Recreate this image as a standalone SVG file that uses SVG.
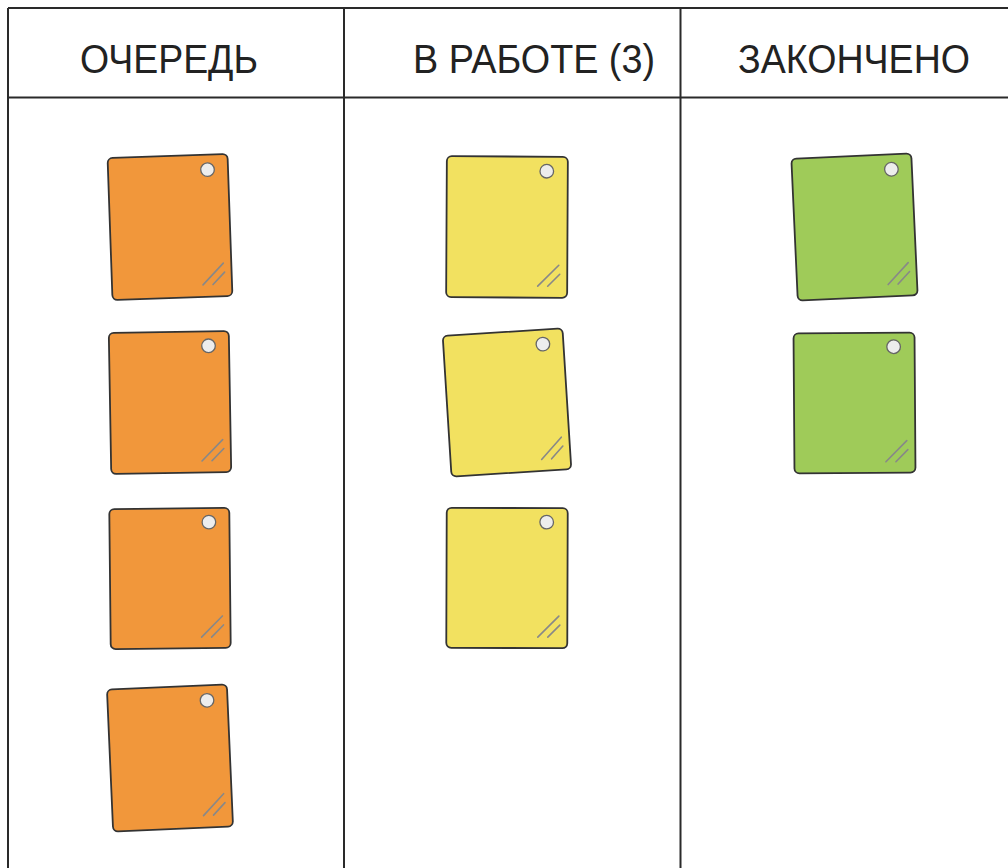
<svg xmlns="http://www.w3.org/2000/svg" width="1008" height="868" viewBox="0 0 1008 868">
<style>
.ln{stroke:#2a2a2a;stroke-width:2;fill:none}
.hd{font-family:"Liberation Sans",Arial,sans-serif;font-size:41px;fill:#222}
.card{stroke:#333;stroke-width:1.8}
.o{fill:#F1973B}.y{fill:#F2E160}.g{fill:#9FCB59}
.pin{fill:#EDEDED;stroke:#666;stroke-width:1.3}
.gl{stroke:#888;stroke-width:1.6;stroke-linecap:round}
</style>
<defs>
<g id="note">
<circle class="pin" cx="39.5" cy="-56" r="6.8"/>
<line class="gl" x1="31" y1="59" x2="52" y2="38"/>
<line class="gl" x1="41" y1="59" x2="53" y2="47"/>
</g>
</defs>
<rect x="0" y="0" width="1008" height="868" fill="#fff"/>
<g id="board">
<line class="ln" x1="8" y1="8" x2="1008" y2="8"/>
<line class="ln" x1="8" y1="97.5" x2="1008" y2="97.5"/>
<line class="ln" x1="8" y1="8" x2="8" y2="868"/>
<line class="ln" x1="344" y1="8" x2="344" y2="868"/>
<line class="ln" x1="680.5" y1="8" x2="680.5" y2="868"/>
</g>
<g id="headers">
<text class="hd" x="80" y="72.5" textLength="178" lengthAdjust="spacingAndGlyphs">ОЧЕРЕДЬ</text>
<text class="hd" x="413" y="72.5" textLength="242" lengthAdjust="spacingAndGlyphs">В РАБОТЕ (3)</text>
<text class="hd" x="738" y="72.5" textLength="232" lengthAdjust="spacingAndGlyphs">ЗАКОНЧЕНО</text>
</g>
<g id="q1" transform="translate(170,227) rotate(-2)"><rect class="card o" x="-60" y="-71" width="120" height="142" rx="5"/><use href="#note"/></g>
<g id="q2" transform="translate(170,402.5) rotate(-1)"><rect class="card o" x="-60" y="-70.5" width="120" height="141" rx="5"/><use href="#note"/></g>
<g id="q3" transform="translate(170,578.5) rotate(-0.6)"><rect class="card o" x="-60" y="-70" width="120" height="140" rx="5"/><use href="#note"/></g>
<g id="q4" transform="translate(170,758) rotate(-2.5)"><rect class="card o" x="-60" y="-71" width="120" height="142" rx="5"/><use href="#note"/></g>
<g id="w1" transform="translate(507,227) rotate(0.3)"><rect class="card y" x="-60.5" y="-70.5" width="121" height="141" rx="5"/><use href="#note"/></g>
<g id="w2" transform="translate(507,402.5) rotate(-3.6)"><rect class="card y" x="-60" y="-70.5" width="120" height="141" rx="5"/><use href="#note"/></g>
<g id="w3" transform="translate(507,578) rotate(0.2)"><rect class="card y" x="-60.5" y="-70" width="121" height="140" rx="5"/><use href="#note"/></g>
<g id="d1" transform="translate(854.5,227) rotate(-2.6)"><rect class="card g" x="-60" y="-71" width="120" height="142" rx="5"/><use href="#note"/></g>
<g id="d2" transform="translate(854.5,403) rotate(-0.4)"><rect class="card g" x="-60.5" y="-70" width="121" height="140" rx="5"/><use href="#note"/></g>
</svg>
